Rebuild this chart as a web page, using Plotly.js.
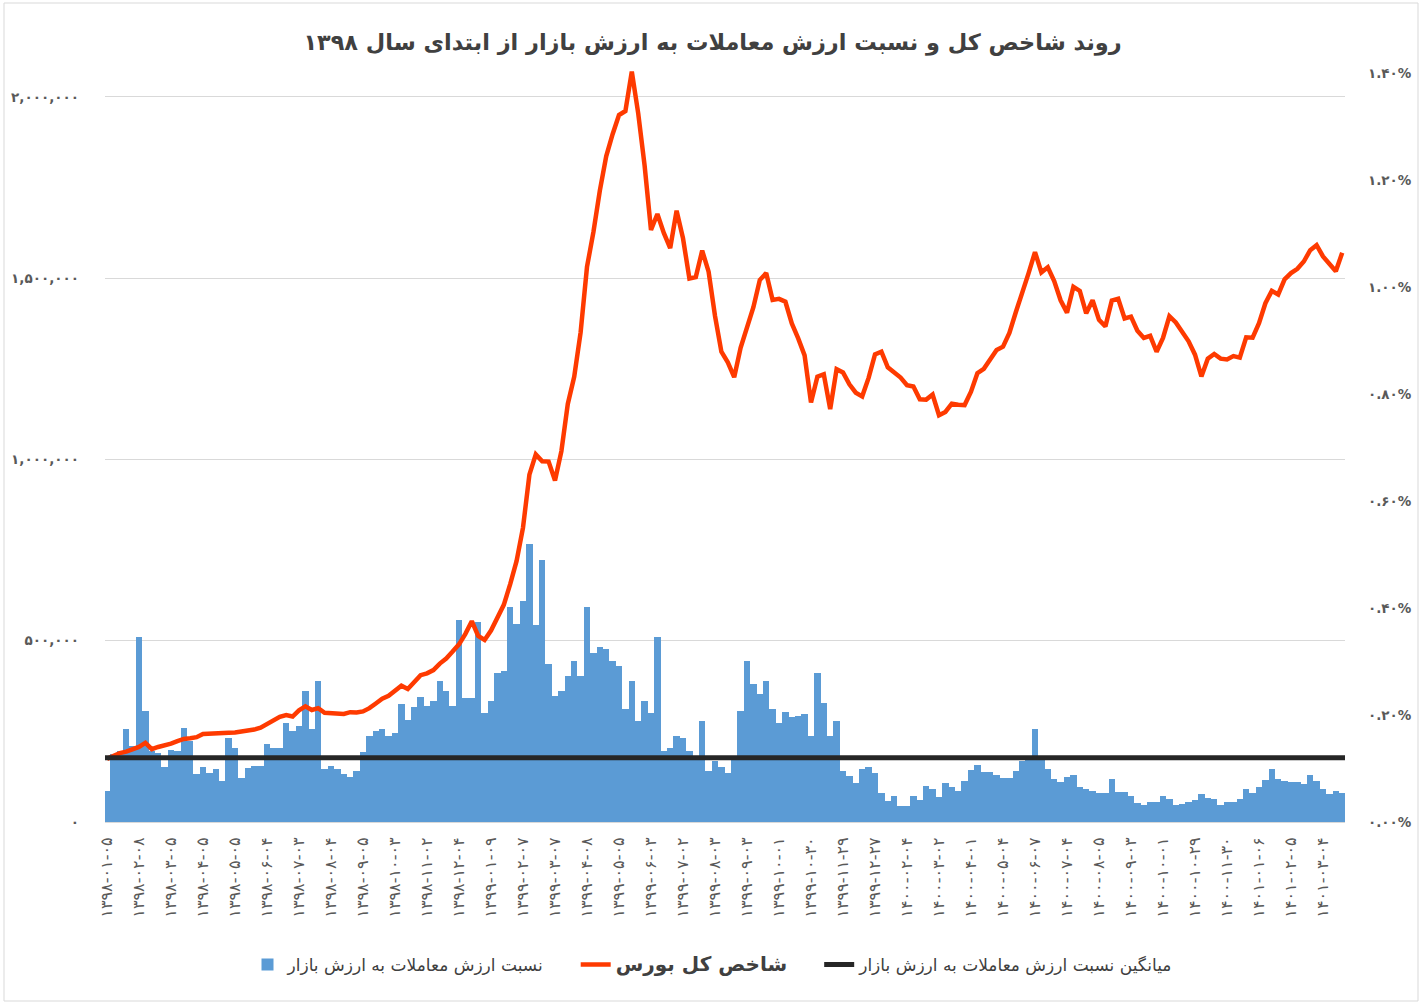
<!DOCTYPE html>
<html>
<head>
<meta charset="utf-8">
<script src="https://cdn.plot.ly/plotly-3.0.1.min.js"></script>
<style>
  html, body { margin: 0; padding: 0; background: #ffffff; }
  #chart { width: 1425px; height: 1008px; }
</style>
</head>
<body>
<div id="chart"></div>
<script>
// Tick labels of the trading-day axis (one label every 20 trading days)
const dateLabels = [
  '۱۳۹۸-۰۱-۰۵', '۱۳۹۸-۰۲-۰۸', '۱۳۹۸-۰۳-۰۵', '۱۳۹۸-۰۴-۰۵', '۱۳۹۸-۰۵-۰۵',
  '۱۳۹۸-۰۶-۰۴', '۱۳۹۸-۰۷-۰۳', '۱۳۹۸-۰۸-۰۴', '۱۳۹۸-۰۹-۰۵', '۱۳۹۸-۱۰-۰۳',
  '۱۳۹۸-۱۱-۰۲', '۱۳۹۸-۱۲-۰۴', '۱۳۹۹-۰۱-۰۹', '۱۳۹۹-۰۲-۰۷', '۱۳۹۹-۰۳-۰۷',
  '۱۳۹۹-۰۴-۰۸', '۱۳۹۹-۰۵-۰۵', '۱۳۹۹-۰۶-۰۳', '۱۳۹۹-۰۷-۰۲', '۱۳۹۹-۰۸-۰۳',
  '۱۳۹۹-۰۹-۰۳', '۱۳۹۹-۱۰-۰۱', '۱۳۹۹-۱۰-۳۰', '۱۳۹۹-۱۱-۲۹', '۱۳۹۹-۱۲-۲۷',
  '۱۴۰۰-۰۲-۰۴', '۱۴۰۰-۰۳-۰۲', '۱۴۰۰-۰۴-۰۱', '۱۴۰۰-۰۵-۰۴', '۱۴۰۰-۰۶-۰۷',
  '۱۴۰۰-۰۷-۰۴', '۱۴۰۰-۰۸-۰۵', '۱۴۰۰-۰۹-۰۳', '۱۴۰۰-۱۰-۰۱', '۱۴۰۰-۱۰-۲۹',
  '۱۴۰۰-۱۱-۳۰', '۱۴۰۱-۰۱-۰۶', '۱۴۰۱-۰۲-۰۵', '۱۴۰۱-۰۳-۰۴'
];

// TEDPIX (total index), one reading every 4 trading days
const indexValues = [
  174000, 183000, 190000, 194000, 199000, 207000, 218000, 201000, 207000, 211000,
  216000, 223000, 229000, 231000, 234000, 243000, 243000, 244000, 246000, 246000,
  247000, 249000, 251000, 255000, 260000, 271000, 281000, 290000, 295000, 291000,
  308000, 319000, 309000, 314000, 301000, 301000, 300000, 298000, 303000, 302000,
  305000, 314000, 327000, 340000, 348000, 362000, 376000, 367000, 386000, 405000,
  410000, 419000, 437000, 451000, 470000, 490000, 519000, 554000, 513000, 502000,
  528000, 561000, 599000, 656000, 720000, 812000, 958000, 1014000, 995000, 994000,
  942000, 1023000, 1153000, 1228000, 1350000, 1531000, 1627000, 1741000, 1836000, 1897000,
  1950000, 1961000, 2070000, 1955000, 1811000, 1633000, 1677000, 1625000, 1583000, 1686000,
  1610000, 1499000, 1503000, 1576000, 1518000, 1396000, 1297000, 1268000, 1227000, 1308000,
  1367000, 1420000, 1495000, 1514000, 1440000, 1443000, 1435000, 1375000, 1334000, 1287000,
  1157000, 1228000, 1235000, 1139000, 1249000, 1240000, 1207000, 1184000, 1174000, 1225000,
  1290000, 1297000, 1254000, 1239000, 1226000, 1205000, 1201000, 1166000, 1165000, 1179000,
  1122000, 1131000, 1154000, 1151000, 1150000, 1187000, 1238000, 1250000, 1276000, 1302000,
  1311000, 1349000, 1406000, 1465000, 1514000, 1572000, 1516000, 1530000, 1492000, 1439000,
  1405000, 1476000, 1465000, 1403000, 1439000, 1385000, 1367000, 1438000, 1443000, 1389000,
  1394000, 1355000, 1335000, 1341000, 1297000, 1335000, 1395000, 1378000, 1353000, 1326000,
  1289000, 1229000, 1278000, 1291000, 1278000, 1276000, 1285000, 1281000, 1337000, 1336000,
  1376000, 1431000, 1465000, 1455000, 1497000, 1514000, 1526000, 1546000, 1577000, 1591000,
  1560000, 1540000, 1519000, 1570000
];

// Traded value / market value ratio (percent), same sampling as the index
const turnoverRatio = [
  0.058, 0.127, 0.133, 0.174, 0.142, 0.345, 0.208, 0.133, 0.129, 0.103,
  0.135, 0.133, 0.176, 0.152, 0.090, 0.103, 0.092, 0.099, 0.077, 0.157,
  0.139, 0.082, 0.101, 0.105, 0.105, 0.146, 0.139, 0.139, 0.185, 0.170,
  0.180, 0.245, 0.174, 0.264, 0.099, 0.105, 0.099, 0.090, 0.084, 0.096,
  0.131, 0.161, 0.170, 0.174, 0.161, 0.167, 0.221, 0.191, 0.215, 0.234,
  0.217, 0.227, 0.264, 0.245, 0.217, 0.378, 0.232, 0.232, 0.374, 0.204,
  0.227, 0.279, 0.283, 0.401, 0.370, 0.413, 0.520, 0.369, 0.490, 0.296,
  0.236, 0.245, 0.273, 0.301, 0.273, 0.401, 0.315, 0.328, 0.324, 0.301,
  0.292, 0.212, 0.264, 0.189, 0.227, 0.204, 0.346, 0.133, 0.139, 0.161,
  0.157, 0.133, 0.124, 0.189, 0.096, 0.114, 0.103, 0.092, 0.116, 0.208,
  0.301, 0.258, 0.240, 0.264, 0.212, 0.185, 0.206, 0.197, 0.199, 0.202,
  0.161, 0.279, 0.223, 0.161, 0.189, 0.096, 0.086, 0.073, 0.099, 0.103,
  0.092, 0.054, 0.039, 0.049, 0.030, 0.030, 0.049, 0.041, 0.067, 0.062,
  0.047, 0.073, 0.066, 0.058, 0.077, 0.097, 0.107, 0.094, 0.094, 0.088,
  0.082, 0.082, 0.096, 0.114, 0.118, 0.174, 0.118, 0.099, 0.081, 0.075,
  0.084, 0.088, 0.066, 0.062, 0.058, 0.054, 0.054, 0.081, 0.056, 0.056,
  0.049, 0.036, 0.032, 0.037, 0.037, 0.049, 0.043, 0.032, 0.034, 0.037,
  0.041, 0.052, 0.045, 0.043, 0.032, 0.037, 0.037, 0.043, 0.062, 0.054,
  0.066, 0.079, 0.099, 0.081, 0.077, 0.075, 0.075, 0.071, 0.088, 0.077,
  0.062, 0.052, 0.058, 0.054
];

// Average of the ratio over the whole period (percent)
const avgTurnoverRatio = 0.12;

const indexTickValues = [0, 500000, 1000000, 1500000, 2000000];
const indexTickText = ['۰', '۵۰۰,۰۰۰', '۱,۰۰۰,۰۰۰', '۱,۵۰۰,۰۰۰', '۲,۰۰۰,۰۰۰'];
const ratioTickValues = [0, 0.2, 0.4, 0.6, 0.8, 1.0, 1.2, 1.4];
const ratioTickText = ['۰.۰۰%', '۰.۲۰%', '۰.۴۰%', '۰.۶۰%', '۰.۸۰%', '۱.۰۰%', '۱.۲۰%', '۱.۴۰%'];

const seriesNames = {
  ratio: 'نسبت ارزش معاملات به ارزش بازار',
  index: 'شاخص کل بورس',
  avg: 'میانگین نسبت ارزش معاملات به ارزش بازار'
};
const chartTitle = 'روند شاخص کل و نسبت ارزش معاملات به ارزش بازار از ابتدای سال ۱۳۹۸';

// x = trading-day number since the first day of 1398
const daysPerSample = 4;
const daysPerLabel = 20;
const sampleDays = turnoverRatio.map((_, i) => i * daysPerSample);
const labelDays = dateLabels.map((_, i) => i * daysPerLabel);
const xStart = -1.25;
const xEnd = 773.75;

const FONT = 'DejaVu Sans, Noto Sans, sans-serif';
const GREY = '#595959';
// non-breaking padding that widens the gap after a legend entry
const legendPad = '\u00A0'.repeat(5);

const traces = [
  {
    type: 'bar',
    name: seriesNames.ratio + legendPad,
    x: sampleDays,
    y: turnoverRatio,
    yaxis: 'y',
    marker: { color: '#5b9bd5', line: { width: 0 } },
    hoverinfo: 'skip'
  },
  {
    type: 'scatter',
    mode: 'lines',
    name: '<b><span style="font-size:20px">' + seriesNames.index + '</span></b>' + legendPad,
    x: sampleDays,
    y: indexValues,
    yaxis: 'y2',
    line: { color: '#fe3a00', width: 4.5 },
    hoverinfo: 'skip'
  },
  {
    type: 'scatter',
    mode: 'lines',
    name: seriesNames.avg,
    x: [xStart, xEnd],
    y: [avgTurnoverRatio, avgTurnoverRatio],
    yaxis: 'y3',
    line: { color: '#262626', width: 5 },
    hoverinfo: 'skip'
  }
];

const ratioRange = [0, 1.4224];
const yTickFont = { family: FONT, size: 13.5, color: GREY, weight: 'bold' };

const layout = {
  width: 1425,
  height: 1008,
  paper_bgcolor: '#ffffff',
  plot_bgcolor: '#ffffff',
  margin: { l: 105, r: 80, t: 61, b: 186 },
  font: { family: FONT, color: GREY },
  title: {
    text: '<b>' + chartTitle + '</b>',
    font: { family: FONT, size: 22.4, color: '#404040' },
    x: 0.5, xref: 'container', xanchor: 'center',
    y: 1 - 42 / 1008, yref: 'container', yanchor: 'middle'
  },
  bargap: 0,
  showlegend: true,
  legend: {
    orientation: 'h',
    xref: 'container', x: 0.5, xanchor: 'center',
    yref: 'container', y: 1 - 965 / 1008, yanchor: 'middle',
    font: { family: FONT, size: 17, color: '#404040' },
    traceorder: 'normal'
  },
  xaxis: {
    range: [xStart, xEnd],
    tickmode: 'array',
    tickvals: labelDays,
    ticktext: dateLabels,
    tickangle: -90,
    tickfont: { family: FONT, size: 16, color: GREY },
    ticks: '',
    ticklabelstandoff: 8,
    showgrid: false,
    zeroline: false,
    showline: true,
    linecolor: '#d9d9d9',
    linewidth: 1
  },
  yaxis: {
    side: 'right',
    range: ratioRange,
    tickmode: 'array',
    tickvals: ratioTickValues,
    ticktext: ratioTickText,
    tickfont: yTickFont,
    ticks: '',
    ticklabelstandoff: 22,
    showgrid: false,
    zeroline: false,
    showline: false
  },
  yaxis2: {
    overlaying: 'y',
    side: 'left',
    range: [0, 2099000],
    tickmode: 'array',
    tickvals: indexTickValues,
    ticktext: indexTickText,
    tickfont: yTickFont,
    ticks: '',
    ticklabelstandoff: 25,
    showgrid: true,
    gridcolor: '#d9d9d9',
    gridwidth: 1,
    zeroline: false,
    showline: false
  },
  yaxis3: {
    overlaying: 'y',
    range: ratioRange,
    visible: false
  },
  shapes: [
    {
      type: 'rect', xref: 'paper', yref: 'paper',
      x0: (4 - 105) / 1240, x1: (1418 - 105) / 1240,
      y0: (822 - 1001) / 761, y1: (822 - 3) / 761,
      line: { color: '#d9d9d9', width: 1 },
      fillcolor: 'rgba(0,0,0,0)',
      layer: 'below'
    }
  ]
};

Plotly.newPlot('chart', traces, layout, { displayModeBar: false, staticPlot: true });
</script>
</body>
</html>
